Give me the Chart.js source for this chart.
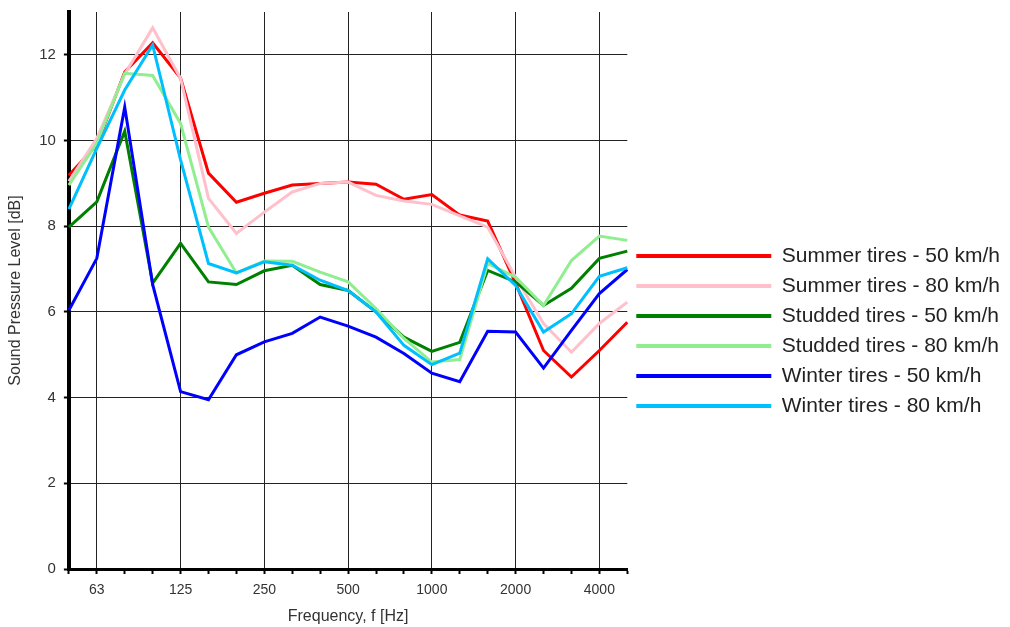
<!DOCTYPE html>
<html>
<head>
<meta charset="utf-8">
<script src="https://cdn.jsdelivr.net/npm/chart.js@4/dist/chart.umd.min.js"></script>
<style>
    html, body { margin: 0; padding: 0; background: #fff; }
    #khung { width: 1010px; height: 627px; }
</style>
</head>
<body>
<div id="khung"><canvas id="bieuDo"></canvas></div>
<script>
// dải tần 1/3 octave
const tanSo = ["50", "63", "80", "100", "125", "160", "200", "250", "315", "400", "500",
    "630", "800", "1000", "1250", "1600", "2000", "2500", "3150", "4000", "5000"];
const nhanChinh = ["63", "125", "250", "500", "1000", "2000", "4000"];

const summer50 = [9.19, 9.9, 11.6, 12.28, 11.46, 9.24, 8.56, 8.77, 8.96, 9.0, 9.03,
    8.98, 8.63, 8.74, 8.26, 8.12, 6.67, 5.1, 4.48, 5.1, 5.76];
const summer80 = [9.05, 10.05, 11.55, 12.63, 11.45, 8.65, 7.83, 8.33, 8.8, 9.0, 9.03,
    8.72, 8.59, 8.51, 8.24, 7.98, 6.81, 5.73, 5.06, 5.73, 6.23];
const studded50 = [7.98, 8.57, 10.22, 6.67, 7.6, 6.7, 6.64, 6.96, 7.09, 6.64, 6.5,
    6.0, 5.41, 5.08, 5.29, 6.97, 6.7, 6.15, 6.55, 7.25, 7.42];
const studded80 = [8.96, 9.94, 11.57, 11.52, 10.4, 7.98, 6.91, 7.19, 7.18, 6.93, 6.7,
    6.08, 5.38, 4.83, 4.89, 7.13, 6.81, 6.15, 7.2, 7.77, 7.67];
const winter50 = [6.04, 7.25, 10.78, 6.64, 4.14, 3.95, 5.0, 5.3, 5.5, 5.88, 5.67,
    5.41, 5.03, 4.57, 4.37, 5.55, 5.53, 4.69, 5.57, 6.43, 6.99];
const winter80 = [8.4, 9.82, 11.18, 12.23, 9.55, 7.13, 6.91, 7.17, 7.09, 6.74, 6.5,
    6.0, 5.22, 4.77, 5.04, 7.24, 6.62, 5.53, 5.96, 6.83, 7.03];

const tenDuLieu = ["Summer tires - 50 km/h", "Summer tires - 80 km/h", "Studded tires - 50 km/h",
    "Studded tires - 80 km/h", "Winter tires - 50 km/h", "Winter tires - 80 km/h"];
const mauDuLieu = ["#ff0000", "#ffc0cb", "#008000", "#90ee90", "#0000ff", "#00bfff"];
const dsGiaTri = [summer50, summer80, studded50, studded80, winter50, winter80];

const FONT = "'Liberation Sans', Arial, sans-serif";

function veBieuDo() {
    const datasets = dsGiaTri.map((arr, i) => ({
        label: tenDuLieu[i],
        data: arr,
        borderColor: mauDuLieu[i],
        backgroundColor: mauDuLieu[i],
        borderWidth: 3,
        pointRadius: 0,
        tension: 0,
        fill: false,
        order: 10 - i,
    }));

    new Chart(document.getElementById("bieuDo"), {
        type: "line",
        data: { labels: tanSo, datasets: datasets },
        options: {
            responsive: true,
            maintainAspectRatio: false,
            animation: false,
            layout: { padding: { top: 12, right: 0, left: 6, bottom: 1 } },
            plugins: {
                tooltip: { enabled: false },
                legend: {
                    position: "right",
                    maxWidth: 420,
                    title: { display: true, text: " ", padding: 0, font: { size: 20 } },
                    labels: {
                        boxWidth: 135,
                        boxHeight: 4,
                        padding: 9,
                        color: "#222",
                        font: { family: FONT, size: 21 },
                        sort: (a, b) => a.datasetIndex - b.datasetIndex,
                        generateLabels: (chart) => {
                            const items = Chart.defaults.plugins.legend.labels.generateLabels(chart);
                            items.forEach((it) => {
                                it.lineWidth = 0;
                                it.fillStyle = mauDuLieu[it.datasetIndex];
                            });
                            return items;
                        },
                    },
                },
            },
            scales: {
                x: {
                    grid: {
                        color: (ctx) => (ctx.tick && nhanChinh.includes(tanSo[ctx.index]) ? "#222" : "rgba(0,0,0,0)"),
                        tickColor: "#000",
                        tickLength: 5,
                        lineWidth: 1,
                        tickWidth: 2,
                    },
                    border: { color: "#000", width: 3 },
                    ticks: {
                        autoSkip: false,
                        maxRotation: 0,
                        color: "#333",
                        padding: 8,
                        font: { family: FONT, size: 14 },
                        callback: function (value, index) {
                            return nhanChinh.includes(tanSo[index]) ? tanSo[index] : "";
                        },
                    },
                    title: {
                        display: true,
                        text: "Frequency, f [Hz]",
                        color: "#333",
                        font: { family: FONT, size: 16 },
                        padding: { top: 0, bottom: 0 },
                    },
                },
                y: {
                    min: 0,
                    max: 13,
                    grid: {
                        color: "#222",
                        tickColor: "#000",
                        tickLength: 5,
                        tickWidth: 2,
                        lineWidth: 1,
                    },
                    border: { color: "#000", width: 4 },
                    ticks: {
                        stepSize: 2,
                        includeBounds: false,
                        color: "#333",
                        padding: 8,
                        font: { family: FONT, size: 15, lineHeight: 0.5 },
                    },
                    title: {
                        display: true,
                        text: "Sound Pressure Level [dB]",
                        color: "#333",
                        font: { family: FONT, size: 16 },
                        padding: { top: 0, bottom: 6 },
                    },
                },
            },
        },
    });
}

document.addEventListener("DOMContentLoaded", veBieuDo);
</script>
</body>
</html>
